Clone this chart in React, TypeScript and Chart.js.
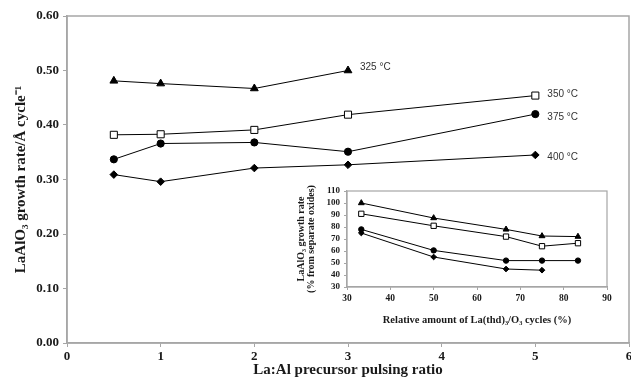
import React, { useEffect, useRef } from "react";
import { Chart, registerables } from "chart.js";

Chart.register(...registerables);

// Main chart data
const ratioX = [0.5, 1, 2, 3, 5];
const temps = ["325 °C", "350 °C", "375 °C", "400 °C"];
const rate325 = [0.481, 0.476, 0.467, 0.5];
const rate350 = [0.382, 0.383, 0.391, 0.419, 0.454];
const rate375 = [0.337, 0.366, 0.368, 0.351, 0.42];
const rate400 = [0.309, 0.296, 0.321, 0.327, 0.345];

// Inset data
const relX = [33.3, 50, 66.7, 75, 83.3];
const rel325 = [100, 87.5, 78, 72.5, 72];
const rel350 = [91, 81, 72, 64, 66.5];
const rel375 = [78, 60.5, 52, 52, 52];
const rel400 = [75, 55, 45, 44];

const mainTicksY = [0, 0.1, 0.2, 0.3, 0.4, 0.5, 0.6];

const SERIF = "'Liberation Serif', 'Times New Roman', serif";
const SANS = "'Liberation Sans', Arial, sans-serif";
const AXIS_GRAY = "#a6a6a6";
const TEXT = "#1a1a1a";

const styles = [
  { pointStyle: "triangle", bg: "#000", r: 4.5 },
  { pointStyle: "rect", bg: "#fff", r: 5 },
  { pointStyle: "circle", bg: "#000", r: 3.6 },
  { pointStyle: "rectRot", bg: "#000", r: 3.8 },
];

function mkDatasets(xs: number[], series: number[][], scale: number) {
  return series.map((vals, i) => ({
    label: temps[i],
    data: vals.map((v, j) => ({ x: xs[j], y: v })),
    borderColor: "#000",
    borderWidth: 1,
    backgroundColor: styles[i].bg,
    pointBackgroundColor: styles[i].bg,
    pointBorderColor: "#000",
    pointBorderWidth: 1,
    pointStyle: styles[i].pointStyle,
    pointRadius: styles[i].r * scale,
    tension: 0,
    fill: false,
  }));
}

const boxPlugin = {
  id: "boxPlugin",
  afterDraw(chart: any, _a: any, opts: any) {
    const { ctx, chartArea } = chart;
    ctx.save();
    ctx.strokeStyle = AXIS_GRAY;
    ctx.lineWidth = opts.width || 1.5;
    ctx.strokeRect(chartArea.left, chartArea.top, chartArea.right - chartArea.left, chartArea.bottom - chartArea.top);
    ctx.restore();
  },
};

const labelDy = [-3, -1, 3, 2];
const endLabels = {
  id: "endLabels",
  afterDatasetsDraw(chart: any) {
    const { ctx } = chart;
    ctx.save();
    ctx.font = `10px ${SANS}`;
    ctx.fillStyle = "#333";
    ctx.textBaseline = "middle";
    ctx.textAlign = "left";
    chart.data.datasets.forEach((ds: any, i: number) => {
      const meta = chart.getDatasetMeta(i);
      const last = meta.data[meta.data.length - 1];
      ctx.fillText(ds.label, last.x + 12, last.y + labelDy[i]);
    });
    ctx.restore();
  },
};

export default function App() {
  const mainRef = useRef<HTMLCanvasElement>(null);
  const insetRef = useRef<HTMLCanvasElement>(null);

  useEffect(() => {
    document.body.style.margin = "0";
    const main = new Chart(mainRef.current!, {
      type: "line",
      data: { datasets: mkDatasets(ratioX, [rate325, rate350, rate375, rate400], 1) as any },
      options: {
        animation: false,
        responsive: false,
        layout: { padding: { top: 16, right: 13, left: 0, bottom: 0 } },
        plugins: { legend: { display: false }, tooltip: { enabled: false }, boxPlugin: { width: 1.5 } } as any,
        scales: {
          x: {
            type: "linear",
            min: 0,
            max: 6,
            afterFit: (s: any) => { s.height = 40; },
            ticks: { stepSize: 1, font: { family: SERIF, size: 13, weight: "bold" }, color: TEXT, padding: 2, maxRotation: 0 },
            grid: { drawOnChartArea: false, tickLength: 4, color: AXIS_GRAY, lineWidth: 1 },
            border: { color: AXIS_GRAY, width: 1.5 },
            title: {
              display: true,
              text: "La:Al precursor pulsing ratio",
              font: { family: SERIF, size: 15, weight: "bold" },
              color: TEXT,
              padding: { top: 0, bottom: 4 },
            },
          },
          y: {
            type: "linear",
            min: 0,
            max: 0.6,
            afterFit: (s: any) => { s.width = 67; },
            afterBuildTicks: (s: any) => { s.ticks = mainTicksY.map((v) => ({ value: v })); },
            ticks: {
              font: { family: SERIF, size: 13, weight: "bold" },
              color: TEXT,
              padding: 4,
              callback: (v: any) => Number(v).toFixed(2),
            },
            grid: { drawOnChartArea: false, tickLength: 4, color: AXIS_GRAY, lineWidth: 1 },
            border: { color: AXIS_GRAY, width: 1.5 },
            title: {
              display: true,
              text: "LaAlO\u2083 growth rate/\u00C5 cycle\u207B\u00B9",
              font: { family: SERIF, size: 15, weight: "bold" },
              color: TEXT,
              padding: { top: 12, bottom: 0 },
            },
          },
        },
      },
      plugins: [boxPlugin, endLabels],
    });

    const inset = new Chart(insetRef.current!, {
      type: "line",
      data: { datasets: mkDatasets(relX, [rel325, rel350, rel375, rel400], 0.75) as any },
      options: {
        animation: false,
        responsive: false,
        layout: { padding: { top: 13, right: 18, left: 0, bottom: 0 } },
        plugins: { legend: { display: false }, tooltip: { enabled: false }, boxPlugin: { width: 1.2 } } as any,
        scales: {
          x: {
            type: "linear",
            min: 30,
            max: 90,
            afterFit: (s: any) => { s.height = 43; },
            ticks: { stepSize: 10, autoSkip: false, font: { family: SERIF, size: 9.5, weight: "bold" }, color: TEXT, padding: 3, maxRotation: 0 },
            grid: { drawOnChartArea: false, tickLength: 3, color: AXIS_GRAY, lineWidth: 1 },
            border: { color: AXIS_GRAY, width: 1.2 },
            title: {
              display: true,
              text: "Relative amount of La(thd)\u2083/O\u2083 cycles (%)",
              font: { family: SERIF, size: 10.5, weight: "bold" },
              color: TEXT,
              padding: { top: 0, bottom: 3 },
            },
          },
          y: {
            type: "linear",
            min: 30,
            max: 110,
            afterFit: (s: any) => { s.width = 57; },
            ticks: { stepSize: 10, autoSkip: false, font: { family: SERIF, size: 9, weight: "bold", lineHeight: 1 }, color: TEXT, padding: 4 },
            grid: { drawOnChartArea: false, tickLength: 3, color: AXIS_GRAY, lineWidth: 1 },
            border: { color: AXIS_GRAY, width: 1.2 },
            title: {
              display: true,
              text: ["LaAlO\u2083 growth rate", "(% from separate oxides)"],
              font: { family: SERIF, size: 10, weight: "bold", lineHeight: 1.05 },
              color: TEXT,
              padding: { top: 6, bottom: 0 },
            },
          },
        },
      },
      plugins: [boxPlugin],
    });

    return () => {
      main.destroy();
      inset.destroy();
    };
  }, []);

  return (
    <div style={{ position: "relative", width: 631, height: 383, background: "#fff", overflow: "hidden" }}>
      <canvas ref={mainRef} width={642} height={383} style={{ position: "absolute", left: 0, top: 0, width: 642, height: 383 }} />
      <canvas ref={insetRef} width={335} height={152} style={{ position: "absolute", left: 290, top: 178, width: 335, height: 152 }} />
    </div>
  );
}
